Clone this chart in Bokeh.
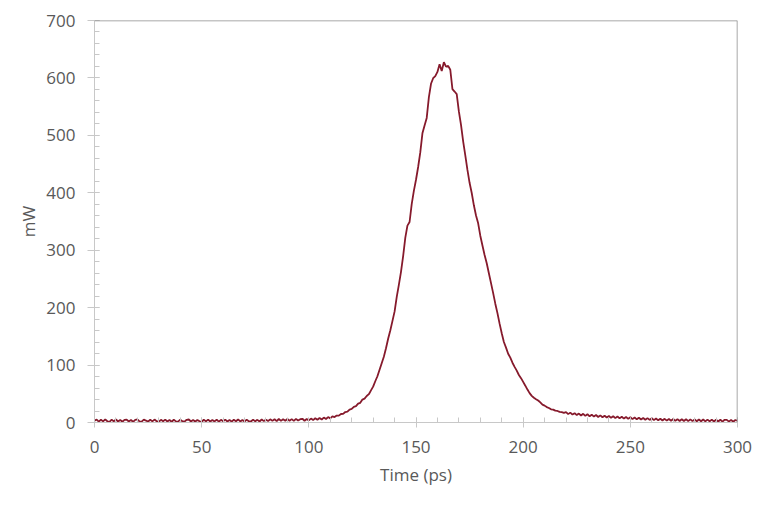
from bokeh.plotting import figure
from bokeh.models import Range1d, SingleIntervalTicker, Span
from bokeh.embed import file_html
from bokeh.resources import INLINE

# ---- data ----
time_ps = list(range(0, 301))
power_mw = [
    3.2, 5.1, 1.6, 4.8, 1.9, 5.4, 2.1, 1.2, 4.9, 2.0,
    5.2, 1.7, 4.5, 1.4, 4.6, 5.0, 1.8, 4.3, 1.2, 4.7,
    5.3, 2.0, 1.6, 4.9, 3.4, 1.5, 4.8, 1.9, 5.1, 2.2,
    1.4, 4.6, 2.1, 5.0, 1.7, 4.3, 1.3, 4.8, 2.0, 1.6,
    4.9, 2.2, 1.5, 4.7, 5.2, 1.8, 4.4, 1.6, 4.5, 2.1,
    1.3, 4.8, 2.0, 5.1, 1.7, 4.3, 1.9, 4.9, 1.4, 4.6,
    2.2, 5.0, 1.8, 4.4, 1.5, 4.7, 2.1, 5.3, 1.9, 4.5,
    1.6, 4.9, 2.3, 1.7, 5.1, 2.0, 4.6, 1.8, 5.2, 2.4,
    4.9, 2.6, 5.5, 2.8, 5.7, 2.4, 6.1, 2.8, 5.5, 3.0,
    6.0, 3.2, 5.9, 2.9, 6.3, 3.4, 5.8, 6.5, 3.1, 6.2,
    3.6, 6.8, 4.2, 7.4, 4.7, 7.9, 5.3, 8.6, 6.1, 9.5,
    7.2, 10.6, 9.4, 12.1, 12.0, 14.8, 14.9, 18.2, 18.8, 22.5,
    23.6, 27.3, 28.5, 32.8, 34.2, 39.9, 41.6, 46.1, 49.3, 56.0,
    62.4, 71.8, 80.5, 91.7, 103.2, 114.6, 129.3, 145.8, 160.2, 176.5,
    193.0, 218.4, 239.6, 262.3, 289.7, 321.5, 342.8, 349.1, 380.4, 403.2,
    422.7, 444.9, 470.3, 503.6, 517.2, 530.4, 566.1, 589.8, 599.5, 603.2,
    610.4, 623.8, 611.9, 627.3, 619.5, 621.0, 614.2, 580.6, 576.3, 571.8,
    541.7, 518.2, 489.6, 465.3, 439.8, 417.4, 399.6, 378.2, 360.5, 346.9,
    325.3, 308.1, 291.7, 277.4, 259.8, 242.6, 225.3, 206.9, 190.4, 172.1,
    155.3, 140.2, 130.4, 119.8, 112.9, 104.1, 96.8, 90.3, 82.7, 77.2,
    70.8, 64.1, 57.3, 51.2, 46.4, 43.1, 40.6, 38.3, 34.9, 31.2,
    29.4, 26.8, 25.3, 22.9, 22.4, 20.6, 20.1, 18.4, 18.0, 16.8,
    18.1, 14.6, 17.2, 13.8, 16.3, 12.9, 15.6, 12.2, 15.1, 11.5,
    14.4, 10.8, 13.6, 10.3, 13.0, 9.6, 12.4, 9.1, 11.8, 8.7,
    11.3, 8.1, 10.8, 7.6, 10.4, 7.2, 9.9, 6.8, 9.5, 6.3,
    9.1, 5.9, 8.6, 5.5, 8.3, 5.2, 7.9, 4.8, 7.6, 4.5,
    7.3, 4.1, 6.9, 3.8, 6.6, 3.5, 6.4, 3.3, 6.2, 3.1,
    6.0, 2.9, 5.8, 2.7, 5.7, 2.6, 5.6, 2.4, 5.5, 2.3,
    5.4, 2.2, 5.3, 2.1, 5.2, 2.0, 5.1, 1.9, 5.0, 1.8,
    4.9, 1.7, 4.8, 1.6, 4.7, 4.5, 1.5, 4.6, 1.4, 4.4,
    3.0,
]
x_range = (0, 300)
y_range = (0, 700)
x_tick_step = 50
y_tick_step = 100
x_label = "Time (ps)"
y_label = "mW"

# ---- styling ----
FONT = "Open Sans"
TEXT = "#595959"
AXIS = "#C8C8C8"
FRAME = "#8C8C8C"
LINE = "#861A2C"

p = figure(width=752, height=490, output_backend="svg", toolbar_location=None,
           x_range=Range1d(*x_range), y_range=Range1d(*y_range),
           min_border_left=94, min_border_right=15, min_border_top=20,
           min_border_bottom=68)
p.grid.visible = False
p.outline_line_color = None
p.background_fill_color = "white"
p.border_fill_color = "white"

p.line(time_ps, power_mw, line_color=LINE, line_width=1.8)

p.xaxis.ticker = SingleIntervalTicker(interval=x_tick_step, num_minor_ticks=5)
p.yaxis.ticker = SingleIntervalTicker(interval=y_tick_step, num_minor_ticks=5)

for ax in (p.xaxis, p.yaxis):
    ax.axis_line_color = AXIS
    ax.axis_line_width = 1
    ax.major_tick_line_color = AXIS
    ax.minor_tick_line_color = AXIS
    ax.major_tick_in = 5
    ax.minor_tick_in = 5
    ax.minor_tick_out = 0
    ax.major_label_text_font = FONT
    ax.major_label_text_font_size = "17px"
    ax.major_label_text_color = TEXT
    ax.axis_label_text_font = FONT
    ax.axis_label_text_font_size = "17px"
    ax.axis_label_text_color = TEXT
    ax.axis_label_text_font_style = "normal"

p.xaxis.major_tick_out = 5
p.yaxis.major_tick_out = 7
p.xaxis.major_label_standoff = 13
p.yaxis.major_label_standoff = 12
p.xaxis.axis_label = x_label
p.yaxis.axis_label = y_label
p.xaxis.axis_label_standoff = 7
p.yaxis.axis_label_standoff = 3

p.add_layout(Span(location=y_range[1], dimension="width", line_color=FRAME, line_width=1.5))
p.add_layout(Span(location=x_range[1], dimension="height", line_color=FRAME, line_width=1.5))

open("out.html", "w").write(file_html(p, INLINE))
